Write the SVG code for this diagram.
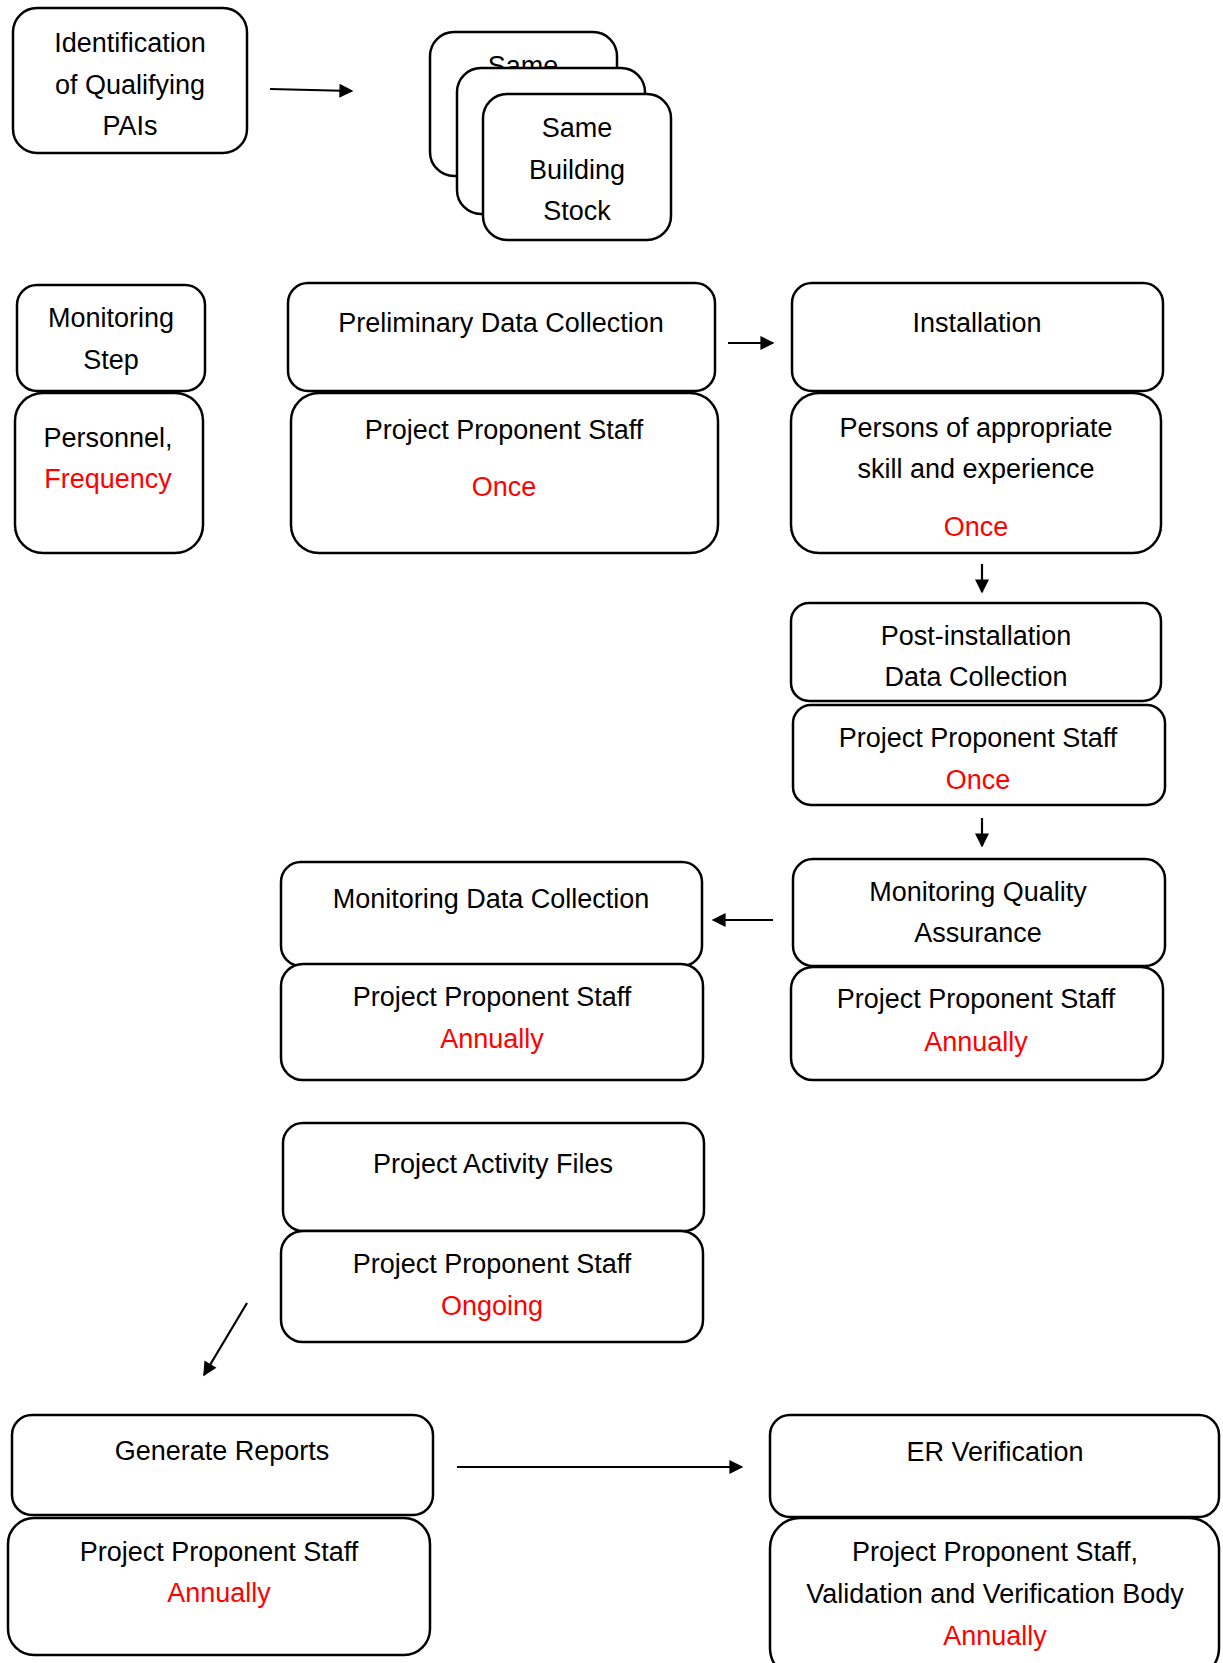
<svg xmlns="http://www.w3.org/2000/svg" width="1223" height="1663" viewBox="0 0 1223 1663">
<style>
.b{fill:#fff;stroke:#000;stroke-width:2.5}
.t{font-family:"Liberation Sans",Arial,sans-serif;font-size:27px;fill:#000;text-anchor:middle}
.r{fill:#ff0000}
.c{stroke:#000;stroke-width:2.2;fill:none}
</style>
<defs>
<marker id="ah" viewBox="0 0 10 10" refX="9" refY="5" markerWidth="15" markerHeight="14" markerUnits="userSpaceOnUse" orient="auto">
<path d="M0,0 L10,5 L0,10 z" fill="#000"/>
</marker>
</defs>
<rect width="1223" height="1663" fill="#fff"/>

<g id="identification">
<rect class="b" x="13" y="8" width="234" height="145" rx="24"/>
<text class="t" x="130" y="52">Identification</text>
<text class="t" x="130" y="94">of Qualifying</text>
<text class="t" x="130" y="135">PAIs</text>
</g>

<g id="building-stock">
<rect class="b" x="430" y="32" width="187" height="144" rx="24"/>
<text class="t" x="523" y="75">Same</text>
<rect class="b" x="457" y="68" width="188" height="146" rx="24"/>
<rect class="b" x="483" y="94" width="188" height="146" rx="24"/>
<text class="t" x="577" y="137">Same</text>
<text class="t" x="577" y="179">Building</text>
<text class="t" x="577" y="220">Stock</text>
</g>

<g id="monitoring-step">
<rect class="b" x="17" y="285" width="188" height="106" rx="20"/>
<text class="t" x="111" y="327">Monitoring</text>
<text class="t" x="111" y="369">Step</text>
</g>
<g id="personnel-frequency">
<rect class="b" x="15" y="393" width="188" height="160" rx="28"/>
<text class="t" x="108" y="447">Personnel,</text>
<text class="t r" x="108" y="488">Frequency</text>
</g>

<g id="preliminary">
<rect class="b" x="288" y="283" width="427" height="108" rx="20"/>
<text class="t" x="501" y="332">Preliminary Data Collection</text>
</g>
<g id="preliminary-personnel">
<rect class="b" x="291" y="393" width="427" height="160" rx="28"/>
<text class="t" x="504" y="439">Project Proponent Staff</text>
<text class="t r" x="504" y="496">Once</text>
</g>

<g id="installation">
<rect class="b" x="792" y="283" width="371" height="108" rx="20"/>
<text class="t" x="977" y="332">Installation</text>
</g>
<g id="installation-personnel">
<rect class="b" x="791" y="393" width="370" height="160" rx="28"/>
<text class="t" x="976" y="437">Persons of appropriate</text>
<text class="t" x="976" y="478">skill and experience</text>
<text class="t r" x="976" y="536">Once</text>
</g>

<g id="post-installation">
<rect class="b" x="791" y="603" width="370" height="98" rx="18"/>
<text class="t" x="976" y="645">Post-installation</text>
<text class="t" x="976" y="686">Data Collection</text>
</g>
<g id="post-installation-personnel">
<rect class="b" x="793" y="705" width="372" height="100" rx="18"/>
<text class="t" x="978" y="747">Project Proponent Staff</text>
<text class="t r" x="978" y="789">Once</text>
</g>

<g id="quality-assurance">
<rect class="b" x="793" y="859" width="372" height="107" rx="20"/>
<text class="t" x="978" y="901">Monitoring Quality</text>
<text class="t" x="978" y="942">Assurance</text>
</g>
<g id="quality-assurance-personnel">
<rect class="b" x="791" y="967" width="372" height="113" rx="22"/>
<text class="t" x="976" y="1008">Project Proponent Staff</text>
<text class="t r" x="976" y="1051">Annually</text>
</g>

<g id="monitoring-data">
<rect class="b" x="281" y="862" width="421" height="104" rx="20"/>
<text class="t" x="491" y="908">Monitoring Data Collection</text>
</g>
<g id="monitoring-data-personnel">
<rect class="b" x="281" y="964" width="422" height="116" rx="22"/>
<text class="t" x="492" y="1006">Project Proponent Staff</text>
<text class="t r" x="492" y="1048">Annually</text>
</g>

<g id="activity-files">
<rect class="b" x="283" y="1123" width="421" height="108" rx="20"/>
<text class="t" x="493" y="1173">Project Activity Files</text>
</g>
<g id="activity-files-personnel">
<rect class="b" x="281" y="1231" width="422" height="111" rx="22"/>
<text class="t" x="492" y="1273">Project Proponent Staff</text>
<text class="t r" x="492" y="1315">Ongoing</text>
</g>

<g id="generate-reports">
<rect class="b" x="12" y="1415" width="421" height="100" rx="20"/>
<text class="t" x="222" y="1460">Generate Reports</text>
</g>
<g id="generate-reports-personnel">
<rect class="b" x="8" y="1518" width="422" height="137" rx="26"/>
<text class="t" x="219" y="1561">Project Proponent Staff</text>
<text class="t r" x="219" y="1602">Annually</text>
</g>

<g id="er-verification">
<rect class="b" x="770" y="1415" width="449" height="102" rx="20"/>
<text class="t" x="995" y="1461">ER Verification</text>
</g>
<g id="er-verification-personnel">
<rect class="b" x="770" y="1518" width="449" height="160" rx="30"/>
<text class="t" x="995" y="1561">Project Proponent Staff,</text>
<text class="t" x="995" y="1603">Validation and Verification Body</text>
<text class="t r" x="995" y="1645">Annually</text>
</g>

<g id="connectors">
<line class="c" x1="270" y1="89" x2="352" y2="91" marker-end="url(#ah)"/>
<line class="c" x1="728" y1="343" x2="773" y2="343" marker-end="url(#ah)"/>
<line class="c" x1="982" y1="564" x2="982" y2="592" marker-end="url(#ah)"/>
<line class="c" x1="982" y1="818" x2="982" y2="846" marker-end="url(#ah)"/>
<line class="c" x1="773" y1="920" x2="713" y2="920" marker-end="url(#ah)"/>
<line class="c" x1="247" y1="1303" x2="204" y2="1375" marker-end="url(#ah)"/>
<line class="c" x1="457" y1="1467" x2="742" y2="1467" marker-end="url(#ah)"/>
</g>
</svg>
